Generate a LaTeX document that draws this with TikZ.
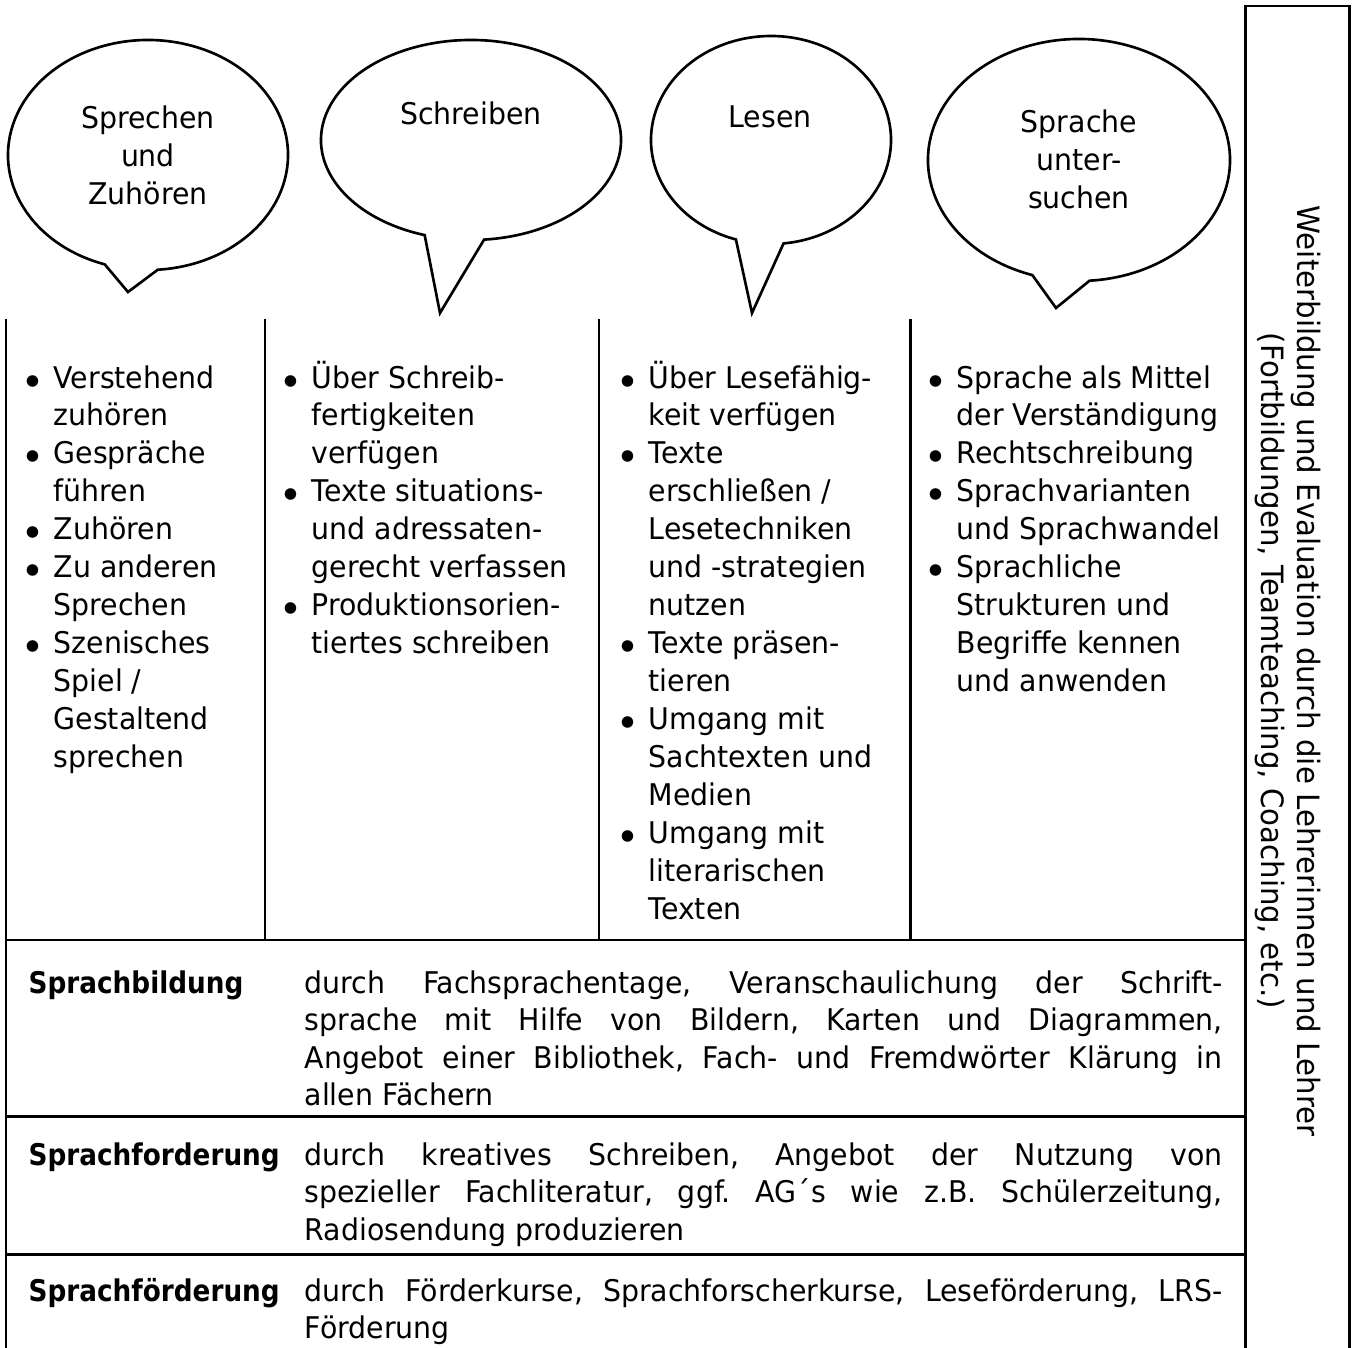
\documentclass[tikz,border=0pt]{standalone}
\usepackage{fontspec}
\setmainfont[FakeStretch=0.95]{DejaVu Sans}
\newfontfamily\labelfont[FakeStretch=0.88]{DejaVu Sans}
\usetikzlibrary{positioning}

\newcommand{\pkt}{\makebox[0.21cm][l]{\makebox[0pt]{$\bullet$}}}
\frenchspacing

\tikzset{
  bubble/.style={black, line width=0.75pt},
  rahmen/.style={black, line width=0.85pt},
  bubbletext/.style={align=center, inner sep=0pt, font=\fontsize{8.5pt}{10.8pt}\selectfont},
  liste/.style={anchor=base west, inner sep=0pt, font=\fontsize{8.5pt}{10.8pt}\selectfont},
  zeilenkopf/.style={anchor=base west, inner sep=0pt, font=\fontsize{8.5pt}{10.8pt}\selectfont\labelfont\bfseries},
  zeilentext/.style={anchor=base west, inner sep=0pt, text width=9.18cm, align=justify, font=\fontsize{8.5pt}{10.7pt}\selectfont},
}

\begin{document}
\begin{tikzpicture}
\useasboundingbox (0,0) rectangle (13.56,-13.48);

% Sprechblasen
\draw[bubble] (1.48,-1.55) ++(252:1.40 and 1.15) arc[start angle=252, end angle=-86, x radius=1.40, y radius=1.15] -- (1.28,-2.92) -- cycle;
\draw[bubble] (4.71,-1.40) ++(252:1.50 and 1.00) arc[start angle=252, end angle=-85, x radius=1.50, y radius=1.00] -- (4.40,-3.13) -- cycle;
\draw[bubble] (7.71,-1.40) ++(253:1.20 and 1.04) arc[start angle=253, end angle=-84, x radius=1.20, y radius=1.04] -- (7.52,-3.13) -- cycle;
\draw[bubble] (10.79,-1.60) ++(252:1.51 and 1.21) arc[start angle=252, end angle=-86, x radius=1.51, y radius=1.21] -- (10.56,-3.08) -- cycle;

\node[bubbletext] (sprechen) at (1.48,-1.55) {Sprechen\\und\\Zuhören};
\node[bubbletext] (schreiben) at (4.71,-1.13) {Schreiben};
\node[bubbletext] (lesen) at (7.70,-1.17) {Lesen};
\node[bubbletext] (sprache) at (10.79,-1.59) {Sprache\\unter-\\suchen};

% Tabelle
\draw[rahmen] (0.06,-3.19) -- (0.06,-13.60);
\draw[rahmen] (2.65,-3.19) -- (2.65,-9.40);
\draw[rahmen] (5.99,-3.19) -- (5.99,-9.40);
\draw[rahmen] (9.10,-3.19) -- (9.10,-9.40);
\draw[rahmen] (0.06,-9.40) -- (12.45,-9.40);
\draw[rahmen] (0.06,-11.16) -- (12.45,-11.16);
\draw[rahmen] (0.06,-12.54) -- (12.45,-12.54);
\draw[rahmen] (12.45,-13.60) -- (12.45,-0.06) -- (13.49,-0.06) -- (13.49,-13.60);

\node[liste] (sprechenliste) at (0.32,-3.88) {\begin{tabular}[t]{@{}l@{}l@{}}
\pkt & Verstehend\\ & zuhören\\ \pkt & Gespräche\\ & führen\\ \pkt & Zuhören\\
\pkt & Zu anderen\\ & Sprechen\\ \pkt & Szenisches\\ & Spiel /\\ & Gestaltend\\ & sprechen
\end{tabular}};
\node[liste] (schreibenliste) at (2.90,-3.88) {\begin{tabular}[t]{@{}l@{}l@{}}
\pkt & Über Schreib-\\ & fertigkeiten\\ & verfügen\\ \pkt & Texte situations-\\
& und adressaten-\\ & gerecht verfassen\\ \pkt & Produktionsorien-\\ & tiertes schreiben
\end{tabular}};
\node[liste] (lesenliste) at (6.27,-3.88) {\begin{tabular}[t]{@{}l@{}l@{}}
\pkt & Über Lesefähig-\\ & keit verfügen\\ \pkt & Texte\\ & erschließen /\\ & Lesetechniken\\
& und -strategien\\ & nutzen\\ \pkt & Texte präsen-\\ & tieren\\ \pkt & Umgang mit\\
& Sachtexten und\\ & Medien\\ \pkt & Umgang mit\\ & literarischen\\ & Texten
\end{tabular}};
\node[liste] (sprachliste) at (9.35,-3.88) {\begin{tabular}[t]{@{}l@{}l@{}}
\pkt & Sprache als Mittel\\ & der Verständigung\\ \pkt & Rechtschreibung\\
\pkt & Sprachvarianten\\ & und Sprachwandel\\ \pkt & Sprachliche\\ & Strukturen und\\
& Begriffe kennen\\ & und anwenden
\end{tabular}};

% Zeilen unten
\node[zeilenkopf] (bildung) at (0.28,-9.93) {Sprachbildung};
\node[zeilentext] (bildungtext) at (3.04,-9.93) {durch Fachsprachentage, Veranschaulichung der Schrift-\linebreak
sprache mit Hilfe von Bildern, Karten und Diagrammen,\linebreak
Angebot einer Bibliothek, Fach- und Fremdwörter Klärung in\linebreak
allen Fächern};
\node[zeilenkopf] (forderung) at (0.28,-11.65) {Sprachforderung};
\node[zeilentext] (forderungtext) at (3.04,-11.65) {durch kreatives Schreiben, Angebot der Nutzung von\linebreak
spezieller Fachliteratur, ggf. AG´s wie z.B. Schülerzeitung,\linebreak
Radiosendung produzieren};
\node[zeilenkopf] (foerderung) at (0.28,-13.01) {Sprachförderung};
\node[zeilentext] (foerderungtext) at (3.04,-13.01) {durch Förderkurse, Sprachforscherkurse, Leseförderung, LRS-\linebreak
Förderung};

% Weiterbildung
\node[rotate=-90, align=center, inner sep=0pt, font=\fontsize{8.75pt}{10.2pt}\selectfont] (weiterbildung) at (12.88,-6.71)
    {Weiterbildung und Evaluation durch die Lehrerinnen und Lehrer\\(Fortbildungen, Teamteaching, Coaching, etc.)};
\end{tikzpicture}
\end{document}
